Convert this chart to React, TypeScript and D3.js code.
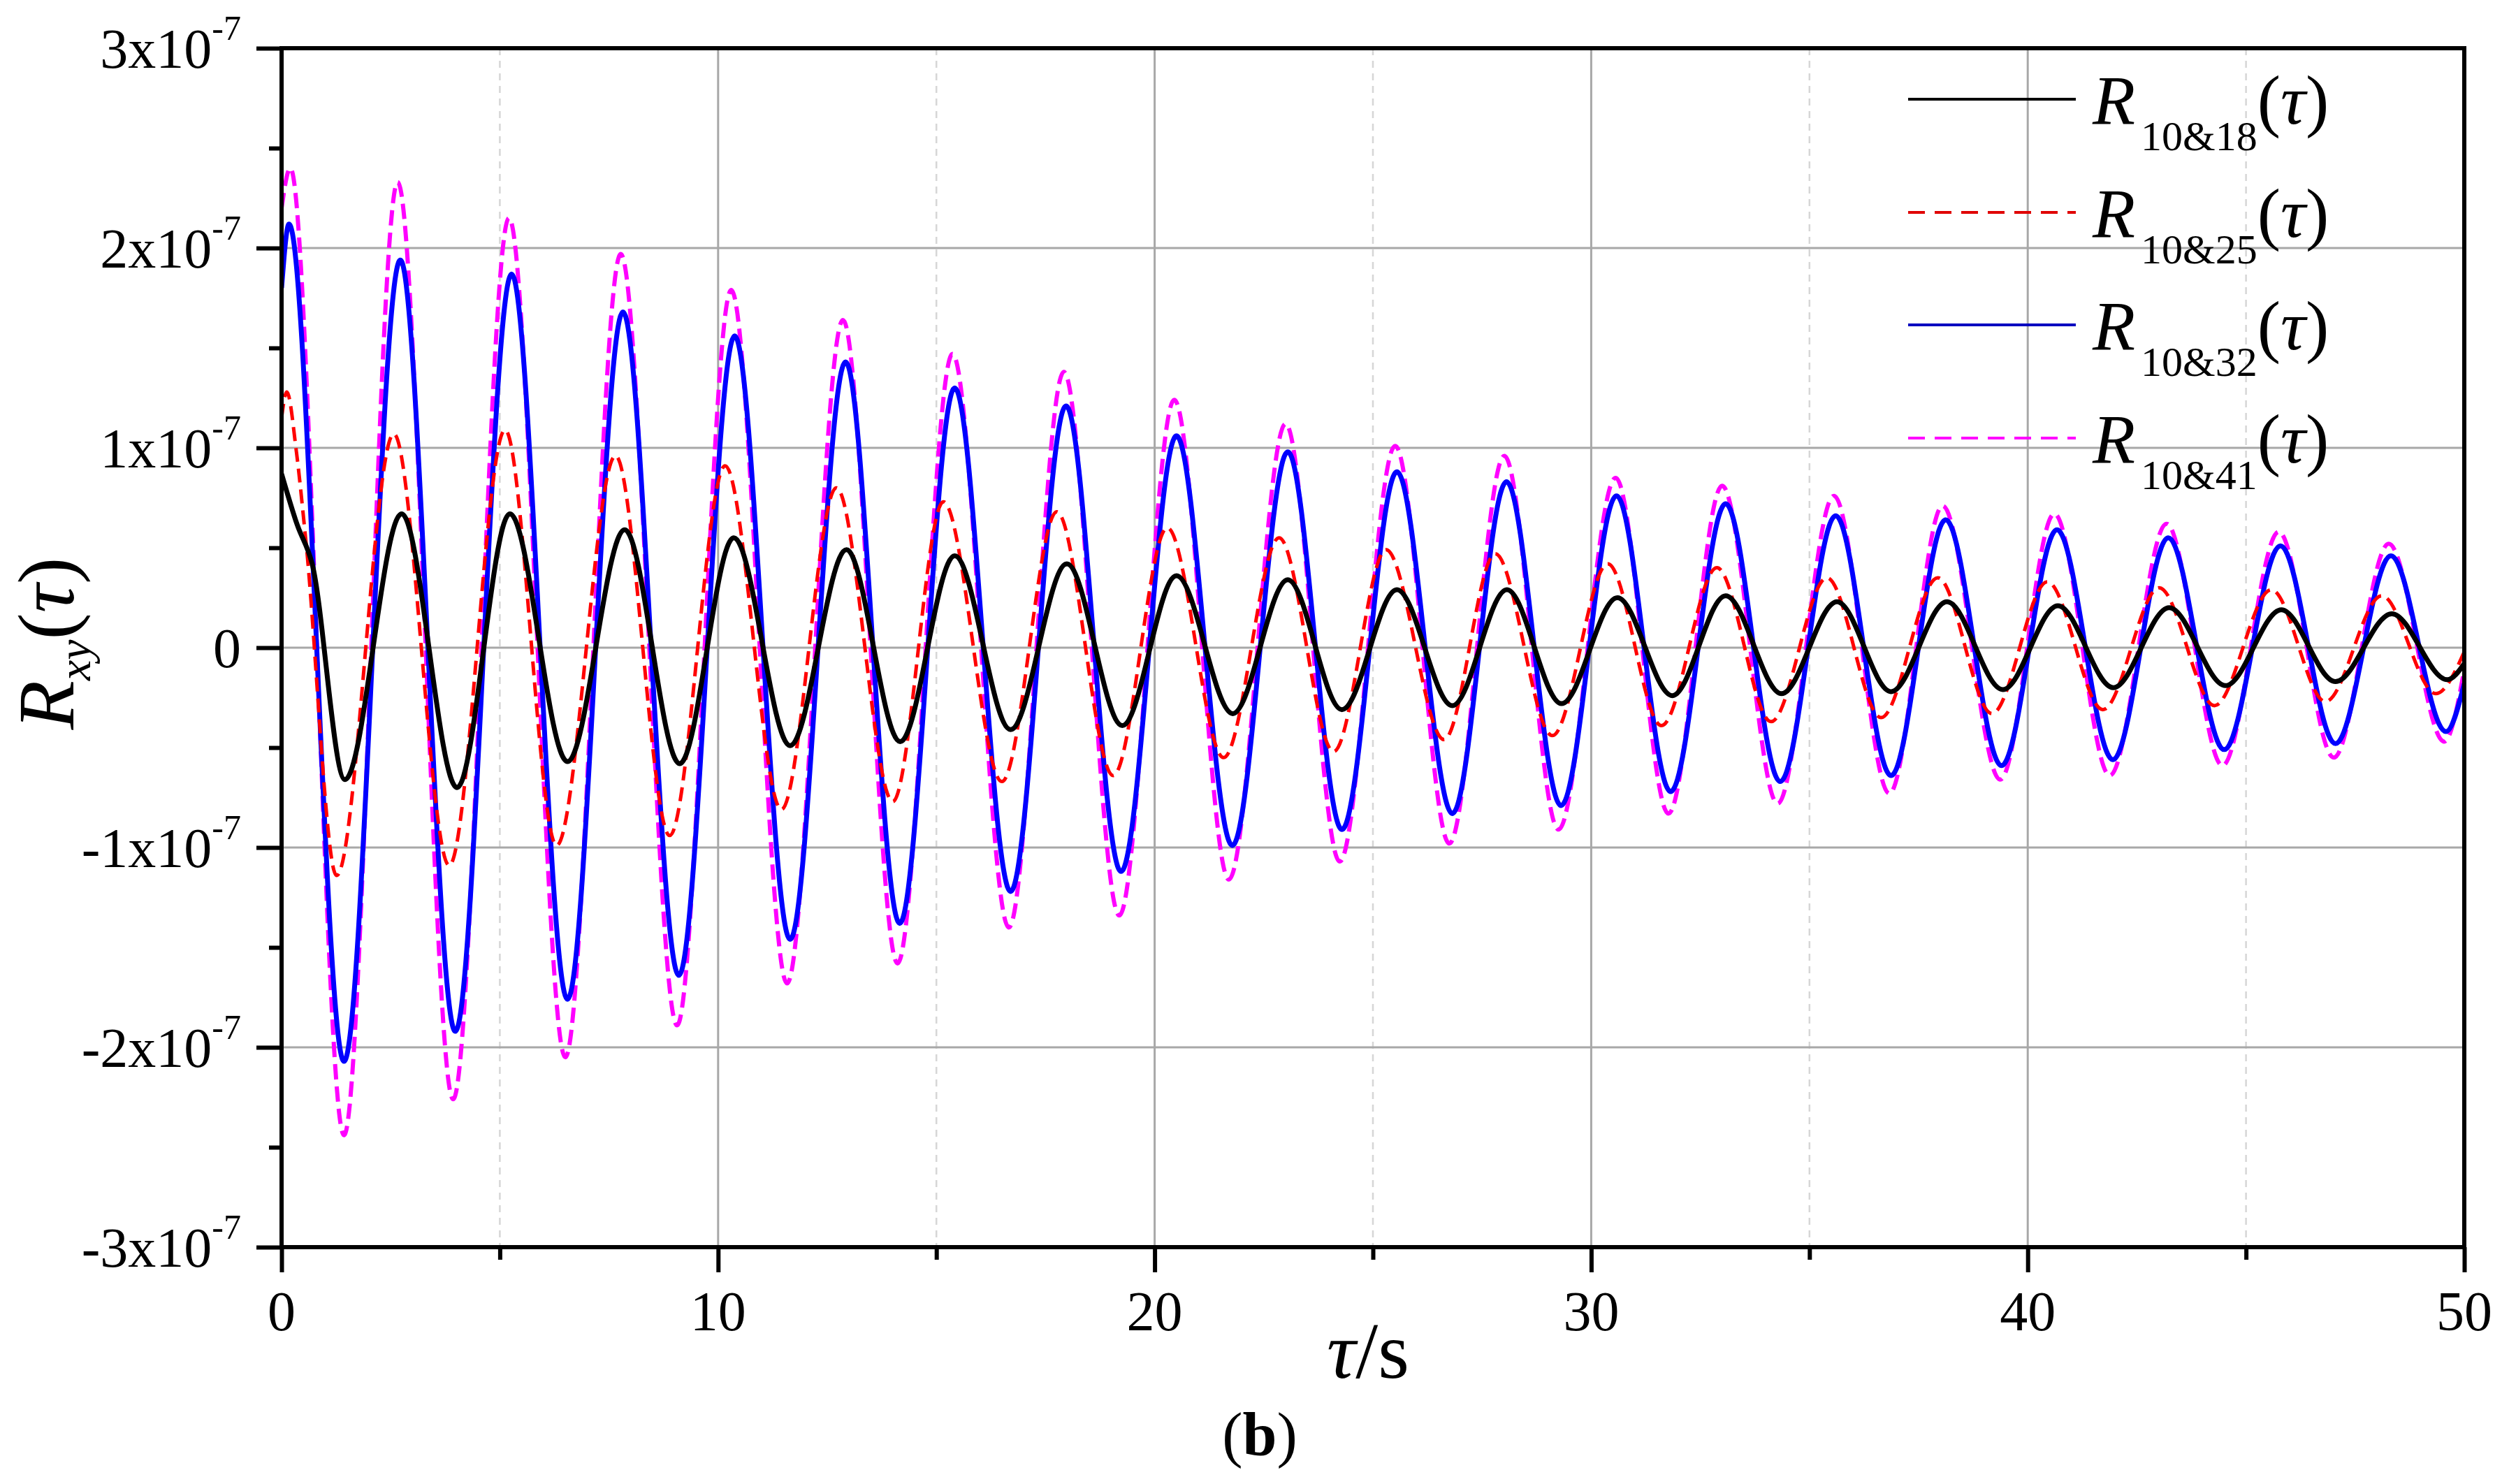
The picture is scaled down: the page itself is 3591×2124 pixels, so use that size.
import React, { useEffect, useRef } from 'react';
import * as d3 from 'd3';

const WIDTH = 3591;
const HEIGHT = 2124;
const MARGIN = { top: 69, right: 64, bottom: 339, left: 403 };
const FONT = "'Liberation Serif', 'Times New Roman', serif";

const xTicks = [0, 10, 20, 30, 40, 50];
const xMinorTicks = [5, 15, 25, 35, 45];
const yTicks = [-3, -2, -1, 0, 1, 2, 3];
const yMinorTicks = [-2.5, -1.5, -0.5, 0.5, 1.5, 2.5];

// values are in units of 1e-7, read at the peaks and troughs of each curve
const t1018 = [0, 0.35, 0.7, 1.45, 2.75, 4.02, 5.23, 6.55, 7.86, 9.12, 10.36, 11.65, 12.94, 14.17, 15.42, 16.7, 17.99, 19.26, 20.5, 21.79, 23.05, 24.29, 25.55, 26.82, 28.07, 29.32, 30.6, 31.86, 33.08, 34.36, 35.63, 36.87, 38.15, 39.43, 40.69, 41.96, 43.24, 44.53, 45.81, 47.05, 48.34, 49.61, 50];
const r1018 = [0.87, 0.62, 0.42, -0.66, 0.67, -0.7, 0.67, -0.57, 0.59, -0.58, 0.55, -0.49, 0.49, -0.47, 0.46, -0.41, 0.42, -0.39, 0.36, -0.33, 0.34, -0.31, 0.29, -0.29, 0.29, -0.28, 0.25, -0.24, 0.26, -0.23, 0.23, -0.22, 0.23, -0.21, 0.21, -0.2, 0.2, -0.19, 0.19, -0.17, 0.17, -0.16, -0.08];

const t1025 = [0, 0.12, 0.34, 0.55, 1.26, 2.57, 3.84, 5.12, 6.3, 7.65, 8.89, 10.16, 11.45, 12.71, 14.0, 15.16, 16.5, 17.76, 19.05, 20.29, 21.58, 22.85, 24.1, 25.3, 26.63, 27.8, 29.11, 30.38, 31.61, 32.88, 34.12, 35.4, 36.64, 37.94, 39.18, 40.45, 41.72, 43.01, 44.28, 45.58, 46.82, 48.11, 49.35, 50];
const r1025 = [1.15, 1.28, 0.98, 0.55, -1.14, 1.07, -1.09, 1.09, -0.99, 0.96, -0.94, 0.91, -0.81, 0.8, -0.77, 0.73, -0.67, 0.68, -0.64, 0.6, -0.55, 0.55, -0.52, 0.49, -0.46, 0.47, -0.44, 0.42, -0.39, 0.4, -0.37, 0.35, -0.35, 0.35, -0.33, 0.33, -0.31, 0.3, -0.29, 0.29, -0.27, 0.26, -0.23, -0.02];

const t1032 = [0, 0.17, 1.43, 2.72, 3.98, 5.27, 6.55, 7.82, 9.1, 10.38, 11.65, 12.92, 14.16, 15.42, 16.7, 17.97, 19.23, 20.5, 21.78, 23.05, 24.29, 25.55, 26.82, 28.06, 29.31, 30.58, 31.82, 33.08, 34.33, 35.6, 36.87, 38.12, 39.4, 40.67, 41.95, 43.22, 44.5, 45.79, 47.05, 48.32, 49.58, 50];
const r1032 = [1.8, 2.12, -2.07, 1.94, -1.92, 1.87, -1.76, 1.68, -1.64, 1.56, -1.46, 1.43, -1.38, 1.3, -1.22, 1.21, -1.12, 1.06, -0.99, 0.98, -0.91, 0.88, -0.83, 0.83, -0.79, 0.76, -0.72, 0.72, -0.67, 0.66, -0.64, 0.64, -0.59, 0.59, -0.56, 0.55, -0.51, 0.51, -0.48, 0.46, -0.42, -0.18];

const t1041 = [0, 0.2, 1.43, 2.66, 3.93, 5.21, 6.5, 7.77, 9.06, 10.3, 11.58, 12.86, 14.11, 15.37, 16.66, 17.92, 19.19, 20.45, 21.7, 23.0, 24.24, 25.51, 26.75, 28.01, 29.25, 30.56, 31.77, 33.0, 34.27, 35.56, 36.83, 38.05, 39.37, 40.61, 41.88, 43.18, 44.46, 45.75, 47.01, 48.27, 49.54, 50];
const r1041 = [2.2, 2.4, -2.44, 2.33, -2.26, 2.15, -2.05, 1.97, -1.89, 1.79, -1.68, 1.64, -1.58, 1.47, -1.4, 1.38, -1.34, 1.24, -1.16, 1.12, -1.07, 1.01, -0.98, 0.96, -0.91, 0.85, -0.83, 0.81, -0.78, 0.76, -0.73, 0.71, -0.66, 0.67, -0.64, 0.62, -0.59, 0.58, -0.55, 0.52, -0.47, -0.11];

const seriesNames = ['10&18', '10&25', '10&32', '10&41'];
const seriesColors = ['#000000', '#ff0000', '#0000ff', '#ff00ff'];
const seriesDash = ['', '20,10', '', '22,10'];
const seriesWidth = [7, 5, 7, 6];
const legendLineColors = ['#000000', '#e00000', '#0000c0', '#ff00ff'];

const seriesT = [t1018, t1025, t1032, t1041];
const seriesV = [r1018, r1025, r1032, r1041];

export default function App() {
  const ref = useRef<SVGSVGElement>(null);

  useEffect(() => {
    if (!ref.current) return;
    const svg = d3.select(ref.current);
    svg.selectAll('*').remove();

    const x = d3.scaleLinear().domain([0, 50]).range([MARGIN.left, WIDTH - MARGIN.right]);
    const y = d3.scaleLinear().domain([-3, 3]).range([HEIGHT - MARGIN.bottom, MARGIN.top]);
    const x0 = x(0), x1 = x(50), y0 = y(3), y1 = y(-3);

    // grid
    svg.append('g')
      .selectAll('line')
      .data(xMinorTicks)
      .join('line')
      .attr('x1', (d) => x(d)).attr('x2', (d) => x(d))
      .attr('y1', y0).attr('y2', y1)
      .attr('stroke', '#d6d6d6')
      .attr('stroke-width', 2.5)
      .attr('stroke-dasharray', '10,8');

    svg.append('g')
      .selectAll('line')
      .data(xTicks.filter((d) => d > 0 && d < 50))
      .join('line')
      .attr('x1', (d) => x(d)).attr('x2', (d) => x(d))
      .attr('y1', y0).attr('y2', y1)
      .attr('stroke', '#a8a8a8')
      .attr('stroke-width', 3);

    svg.append('g')
      .selectAll('line')
      .data(yTicks.filter((d) => Math.abs(d) < 3))
      .join('line')
      .attr('x1', x0).attr('x2', x1)
      .attr('y1', (d) => y(d)).attr('y2', (d) => y(d))
      .attr('stroke', '#a8a8a8')
      .attr('stroke-width', 3);

    // curves
    svg.append('clipPath').attr('id', 'plot-clip')
      .append('rect')
      .attr('x', x0).attr('y', y0)
      .attr('width', x1 - x0).attr('height', y1 - y0);

    const line = d3.line<[number, number]>()
      .x((d) => x(d[0]))
      .y((d) => y(d[1]))
      .curve(d3.curveMonotoneX);

    const order = [3, 2, 1, 0];
    const curves = svg.append('g').attr('clip-path', 'url(#plot-clip)');
    order.forEach((i) => {
      const pts = seriesT[i].map((t, k) => [t, seriesV[i][k]] as [number, number]);
      curves.append('path')
        .attr('d', line(pts))
        .attr('fill', 'none')
        .attr('stroke', seriesColors[i])
        .attr('stroke-width', seriesWidth[i])
        .attr('stroke-dasharray', seriesDash[i] || null)
        .attr('stroke-linejoin', 'round');
    });

    // axes
    const xAxis = svg.append('g')
      .attr('transform', `translate(0, ${y1})`)
      .call(d3.axisBottom(x).tickValues(xTicks).tickSize(36).tickFormat(() => ''));
    const xAxisMinor = svg.append('g')
      .attr('transform', `translate(0, ${y1})`)
      .call(d3.axisBottom(x).tickValues(xMinorTicks).tickSize(18).tickFormat(() => ''));
    const yAxis = svg.append('g')
      .attr('transform', `translate(${x0}, 0)`)
      .call(d3.axisLeft(y).tickValues(yTicks).tickSize(36).tickFormat(() => ''));
    const yAxisMinor = svg.append('g')
      .attr('transform', `translate(${x0}, 0)`)
      .call(d3.axisLeft(y).tickValues(yMinorTicks).tickSize(18).tickFormat(() => ''));
    [xAxis, xAxisMinor, yAxis, yAxisMinor].forEach((g) => {
      g.select('.domain').remove();
      g.selectAll('.tick line').attr('stroke', '#000').attr('stroke-width', 6);
    });

    svg.append('rect')
      .attr('x', x0).attr('y', y0)
      .attr('width', x1 - x0).attr('height', y1 - y0)
      .attr('fill', 'none')
      .attr('stroke', '#000')
      .attr('stroke-width', 6);

    // tick labels
    svg.append('g')
      .selectAll('text')
      .data(xTicks)
      .join('text')
      .attr('x', (d) => x(d))
      .attr('y', 1904)
      .attr('text-anchor', 'middle')
      .style('font-family', FONT)
      .style('font-size', '80px')
      .text((d) => String(d));

    const yLabels = svg.append('g')
      .selectAll('text')
      .data(yTicks)
      .join('text')
      .attr('x', 345)
      .attr('y', (d) => y(d) + 28)
      .attr('text-anchor', 'end')
      .style('font-family', FONT)
      .style('font-size', '80px');
    yLabels.append('tspan').text((d) => (d === 0 ? '0' : `${d}x10`));
    yLabels.filter((d) => d !== 0)
      .append('tspan')
      .attr('dy', -40)
      .style('font-size', '50px')
      .text('-7');

    // axis titles
    const yTitle = svg.append('text')
      .attr('transform', 'translate(105, 921) rotate(-90)')
      .attr('text-anchor', 'middle')
      .style('font-family', FONT)
      .style('font-size', '115px');
    yTitle.append('tspan').style('font-style', 'italic').text('R');
    yTitle.append('tspan').attr('dy', 24).style('font-style', 'italic').style('font-size', '66px').text('xy');
    yTitle.append('tspan').attr('dy', -24).text('(');
    yTitle.append('tspan').style('font-style', 'italic').text('τ');
    yTitle.append('tspan').text(')');

    const xTitle = svg.append('text')
      .attr('x', 1958).attr('y', 1972)
      .attr('text-anchor', 'middle')
      .style('font-family', FONT)
      .style('font-size', '115px');
    xTitle.append('tspan').style('font-style', 'italic').text('τ');
    xTitle.append('tspan').text('/s');

    const caption = svg.append('text')
      .attr('x', 1803).attr('y', 2083)
      .attr('text-anchor', 'middle')
      .style('font-family', FONT)
      .style('font-size', '88px');
    caption.append('tspan').text('(');
    caption.append('tspan').style('font-weight', 'bold').text('b');
    caption.append('tspan').text(')');

    // legend
    const rowY = [142, 304, 465, 627];
    const legend = svg.append('g');
    seriesNames.forEach((name, i) => {
      legend.append('line')
        .attr('x1', 2731).attr('x2', 2971)
        .attr('y1', rowY[i]).attr('y2', rowY[i])
        .attr('stroke', legendLineColors[i])
        .attr('stroke-width', 4)
        .attr('stroke-dasharray', seriesDash[i] ? '24,14' : null);
      const label = legend.append('text')
        .attr('x', 2995).attr('y', rowY[i] + 35)
        .style('font-family', FONT)
        .style('font-size', '100px');
      label.append('tspan').style('font-style', 'italic').text('R');
      label.append('tspan').attr('dx', 8).attr('dy', 38).style('font-size', '60px').text(name);
      label.append('tspan').attr('dy', -38).text('(');
      label.append('tspan').style('font-style', 'italic').text('τ');
      label.append('tspan').text(')');
    });
  }, []);

  return (
    <>
      <style>{'body{margin:0;background:#fff}'}</style>
      <svg ref={ref} width={WIDTH} height={HEIGHT} style={{ display: 'block', background: '#fff' }} />
    </>
  );
}
